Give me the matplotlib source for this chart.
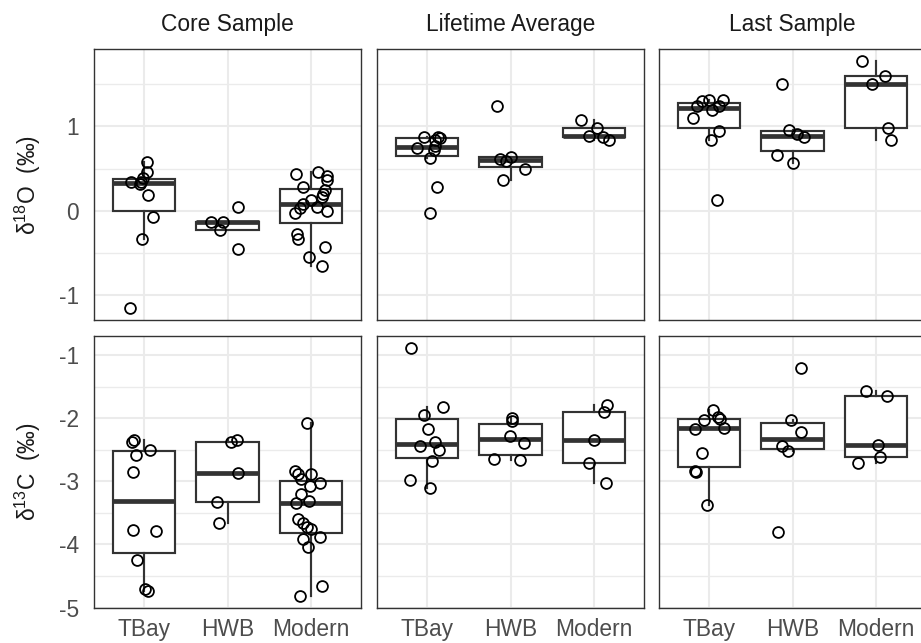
import matplotlib
matplotlib.use('Agg')
import matplotlib.pyplot as plt
from matplotlib.ticker import MultipleLocator, FixedLocator

plt.rcParams['font.family'] = ['Liberation Sans', 'DejaVu Sans']
plt.rcParams['mathtext.fontset'] = 'custom'
plt.rcParams['mathtext.rm'] = 'Liberation Sans'
plt.rcParams['mathtext.it'] = 'Liberation Sans:italic'
plt.rcParams['axes.unicode_minus'] = False

# ---------------- data ----------------
groups = ['TBay', 'HWB', 'Modern']
timings = ['Core Sample', 'Lifetime Average', 'Last Sample']
ylabels = ['δ$^{18}$O  (‰)', 'δ$^{13}$C  (‰)']

# delta 18O, per timing: [TBay, HWB, Modern]
d18O_core = [
    [0.573, 0.455, 0.345, 0.345, 0.385, 0.318, 0.184, -0.071, -0.333, -1.145],
    [-0.137, -0.137, -0.231, 0.051, -0.447],
    [0.435, 0.463, 0.412, 0.365, 0.279, 0.247, 0.196, 0.168, 0.126, 0.082,
     0.039, 0.051, -0.024, 0.004, -0.271, -0.333, -0.424, -0.545, -0.655],
]
d18O_core_jit = [
    [0.03, 0.036, -0.155, -0.036, -0.015, -0.044, 0.05, 0.11, -0.02, -0.17],
    [-0.2, -0.05, -0.09, 0.12, 0.13],
    [-0.18, 0.09, 0.19, 0.19, -0.1, 0.17, 0.15, 0.13, 0.0, -0.1,
     -0.13, 0.07, -0.19, 0.19, -0.17, -0.15, 0.17, -0.02, 0.13],
]
d18O_life = [
    [0.875, 0.875, 0.867, 0.835, 0.745, 0.765, 0.72, 0.62, 0.28, -0.025],
    [1.235, 0.616, 0.592, 0.639, 0.498, 0.365],
    [1.07, 0.985, 0.886, 0.875, 0.835],
]
d18O_life_jit = [
    [-0.04, 0.13, 0.15, 0.1, -0.12, 0.1, 0.08, 0.04, 0.12, 0.04],
    [-0.16, -0.12, -0.05, 0.01, 0.17, -0.09],
    [-0.16, 0.04, -0.06, 0.11, 0.18],
]
d18O_last = [
    [1.294, 1.314, 1.314, 1.239, 1.239, 1.188, 1.102, 0.945, 0.843, 0.129],
    [1.502, 0.961, 0.906, 0.875, 0.655, 0.569],
    [1.768, 1.6, 1.502, 0.985, 0.835],
]
d18O_last_jit = [
    [-0.09, 0.0, 0.17, -0.14, 0.12, 0.04, -0.19, 0.12, 0.02, 0.1],
    [-0.13, -0.04, 0.05, 0.14, -0.18, 0.0],
    [-0.17, 0.11, -0.05, 0.14, 0.18],
]

# delta 13C
d13C_core = [
    [-2.381, -2.35, -2.575, -2.496, -2.848, -3.767, -3.787, -4.244, -4.701, -4.737],
    [-2.381, -2.35, -2.874, -3.325, -3.661],
    [-2.08, -2.83, -2.89, -2.89, -2.97, -3.03, -3.08, -3.20, -3.31, -3.35,
     -3.59, -3.66, -3.72, -3.75, -3.88, -3.91, -4.04, -4.65, -4.81],
]
d13C_core_jit = [
    [-0.14, -0.12, -0.1, 0.07, -0.13, -0.13, 0.14, -0.08, 0.01, 0.05],
    [0.04, 0.11, 0.12, -0.12, -0.1],
    [-0.05, -0.19, -0.16, 0.0, -0.12, 0.11, -0.01, -0.12, -0.02, -0.18,
     -0.15, -0.1, -0.05, 0.0, 0.11, -0.09, -0.03, 0.13, -0.13],
]
d13C_life = [
    [-0.894, -1.824, -1.956, -2.17, -2.375, -2.433, -2.507, -2.68, -2.98, -3.11],
    [-2.003, -2.04, -2.276, -2.391, -2.644, -2.669],
    [-1.794, -1.909, -2.35, -2.706, -3.031],
]
d13C_life_jit = [
    [-0.19, 0.19, -0.04, 0.01, 0.1, -0.08, 0.14, 0.06, -0.2, 0.04],
    [0.02, 0.02, -0.01, 0.16, -0.2, 0.11],
    [0.16, 0.12, 0.0, -0.06, 0.14],
]
d13C_last = [
    [-1.877, -2.024, -1.982, -2.008, -2.171, -2.155, -2.559, -2.837, -2.848, -3.378],
    [-1.2, -2.024, -2.213, -2.444, -2.512, -3.8],
    [-1.562, -1.646, -2.417, -2.617, -2.717],
]
d13C_last_jit = [
    [0.05, -0.06, 0.11, 0.13, -0.17, 0.18, -0.08, -0.17, -0.16, -0.02],
    [0.1, -0.02, 0.1, -0.13, -0.05, -0.17],
    [-0.12, 0.13, 0.02, 0.05, -0.21],
]

rows = [
    [(d18O_core, d18O_core_jit), (d18O_life, d18O_life_jit), (d18O_last, d18O_last_jit)],
    [(d13C_core, d13C_core_jit), (d13C_life, d13C_life_jit), (d13C_last, d13C_last_jit)],
]

# ---------------- layout ----------------
W, H = 921, 643
fig = plt.figure(figsize=(W / 100, H / 100), dpi=100)
fig.patch.set_facecolor('white')

col_left = [94, 377, 659]
panel_w = 267
row_top = [49, 336]
row_h = [271, 272]

dark = '#333333'
grid_c = '#EBEBEB'
tick_c = '#4D4D4D'
title_c = '#1A1A1A'
fs = 16.4

for r in range(2):
    allv = [v for panel in rows[r] for grp in panel[0] for v in grp]
    lo, hi = min(allv), max(allv)
    pad = 0.05 * (hi - lo)
    for c in range(3):
        vals, jit = rows[r][c]
        ax = fig.add_axes([col_left[c] / W, 1 - (row_top[r] + row_h[r]) / H,
                           panel_w / W, row_h[r] / H])
        ax.boxplot(vals, positions=[0, 1, 2], widths=0.75, whis=1.5,
                   showfliers=False, showcaps=False, patch_artist=True,
                   manage_ticks=False,
                   boxprops=dict(facecolor='white', edgecolor=dark, linewidth=1.55),
                   whiskerprops=dict(color=dark, linewidth=1.55),
                   medianprops=dict(color=dark, linewidth=3.4, solid_capstyle='butt'),
                   zorder=2)
        for i in range(3):
            xs = [i + d for d in jit[i]]
            ax.plot(xs, vals[i], linestyle='none', marker='o', mfc='none',
                    mec='black', mew=1.3, ms=7.8, zorder=3)

        ax.set_xlim(-0.6, 2.6)
        ax.set_ylim(lo - pad, hi + pad)
        ax.set_axisbelow(True)
        ax.xaxis.set_major_locator(FixedLocator([0, 1, 2]))
        ax.set_xticklabels(groups)
        ax.yaxis.set_major_locator(MultipleLocator(1))
        ax.yaxis.set_minor_locator(MultipleLocator(0.5))
        ax.grid(which='major', color=grid_c, lw=1.5)
        ax.grid(which='minor', axis='y', color=grid_c, lw=1.0)
        for s in ax.spines.values():
            s.set_color(dark)
            s.set_linewidth(1.0)
        ax.tick_params(which='both', length=0, labelsize=fs, colors=tick_c)
        ax.tick_params(axis='y', pad=11.0)
        ax.tick_params(axis='x', pad=7.0)
        if c > 0:
            ax.tick_params(labelleft=False)
        if r == 0:
            ax.tick_params(labelbottom=False)
            ax.set_title(timings[c], fontsize=fs, color=title_c, pad=13)

    cy = row_top[r] + row_h[r] / 2
    fig.text(28 / W, 1 - cy / H, ylabels[r], rotation=90, ha='center', va='center',
             fontsize=fs, color=title_c)

fig.savefig('out.png', dpi=100)
